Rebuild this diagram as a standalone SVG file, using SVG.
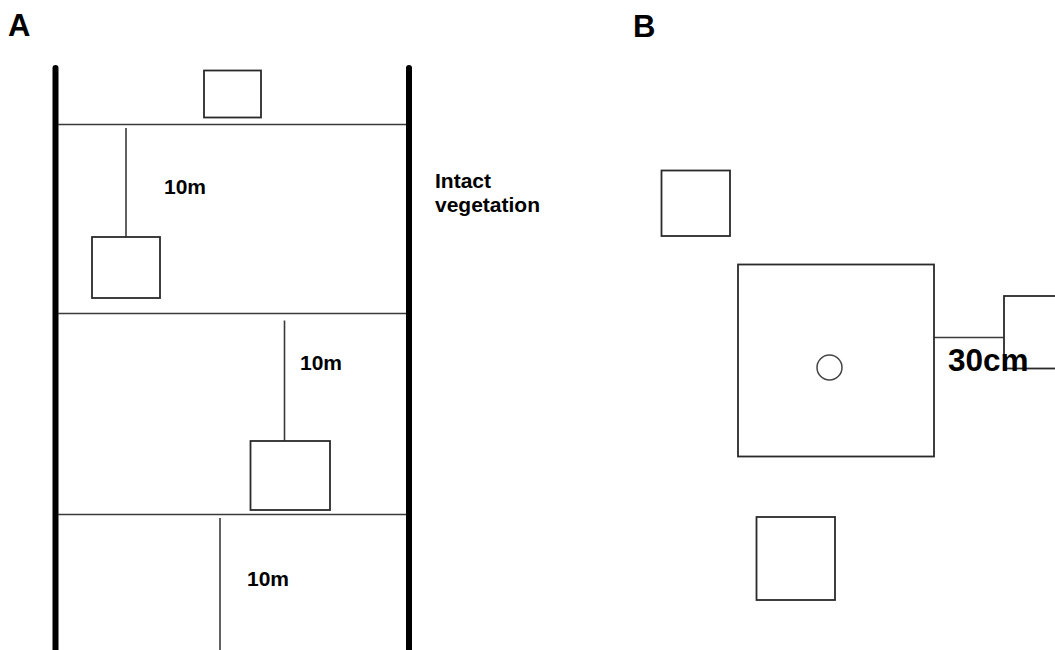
<svg xmlns="http://www.w3.org/2000/svg" width="1055" height="650" viewBox="0 0 1055 650">
  <style>
    .pole { stroke: #000; stroke-width: 6; stroke-linecap: round; fill: none; }
    .rule { stroke: #3a3a3a; stroke-width: 1.6; fill: none; }
    .quad { fill: #fff; stroke: #2a2a2a; stroke-width: 1.8; }
    .panel { font-family: "Liberation Sans", Arial, sans-serif; font-weight: bold; font-size: 31px; fill: #000; }
    .label { font-family: "Liberation Sans", Arial, sans-serif; font-weight: bold; font-size: 21px; fill: #000; }
    .big { font-family: "Liberation Sans", Arial, sans-serif; font-weight: bold; font-size: 31.5px; fill: #000; }
  </style>
  <rect width="1055" height="650" fill="#fff"/>

  <!-- panel letters -->
  <text class="panel" x="8" y="36">A</text>
  <text class="panel" x="633" y="36.5">B</text>

  <!-- Panel A: transect between two boundary poles -->
  <g id="transect">
    <line class="pole" x1="55.5" y1="68" x2="55.5" y2="655"/>
    <line class="pole" x1="409" y1="68" x2="409" y2="655"/>
    <line class="rule" x1="58" y1="124.5" x2="406" y2="124.5"/>
    <line class="rule" x1="58" y1="313.5" x2="406" y2="313.5"/>
    <line class="rule" x1="58" y1="514.5" x2="406" y2="514.5"/>
  </g>

  <g id="connectors">
    <line class="rule" x1="126" y1="128" x2="126" y2="237"/>
    <line class="rule" x1="284.5" y1="320.5" x2="284.5" y2="441"/>
    <line class="rule" x1="220" y1="518" x2="220" y2="650"/>
    <line class="rule" x1="934" y1="337.5" x2="1004" y2="337.5"/>
  </g>

  <g id="quadrat-top">
    <rect class="quad" x="204" y="70.5" width="57" height="47"/>
  </g>
  <g id="quadrat-1">
    <rect class="quad" x="92" y="237" width="68" height="61"/>
  </g>
  <g id="quadrat-2">
    <rect class="quad" x="250.5" y="441" width="79.5" height="69"/>
  </g>

  <text class="label" x="164" y="193.5">10m</text>
  <text class="label" x="300" y="370">10m</text>
  <text class="label" x="247" y="586">10m</text>

  <text class="label" x="435" y="187.5">Intact</text>
  <text class="label" x="435" y="211.5">vegetation</text>

  <!-- Panel B: central plot with satellite quadrats -->
  <g id="quadrat-b-nw">
    <rect class="quad" x="661.5" y="170.5" width="68.5" height="65.5"/>
  </g>
  <g id="plot-center">
    <rect class="quad" x="738" y="264.5" width="196" height="192"/>
    <circle cx="829.5" cy="367.5" r="12.5" fill="none" stroke="#444" stroke-width="1.5"/>
  </g>
  <g id="quadrat-b-e">
    <rect class="quad" x="1004" y="296" width="70" height="72.5"/>
  </g>
  <g id="quadrat-b-s">
    <rect class="quad" x="756.5" y="517" width="78.5" height="83"/>
  </g>

  <text class="big" x="948" y="371">30cm</text>
</svg>
